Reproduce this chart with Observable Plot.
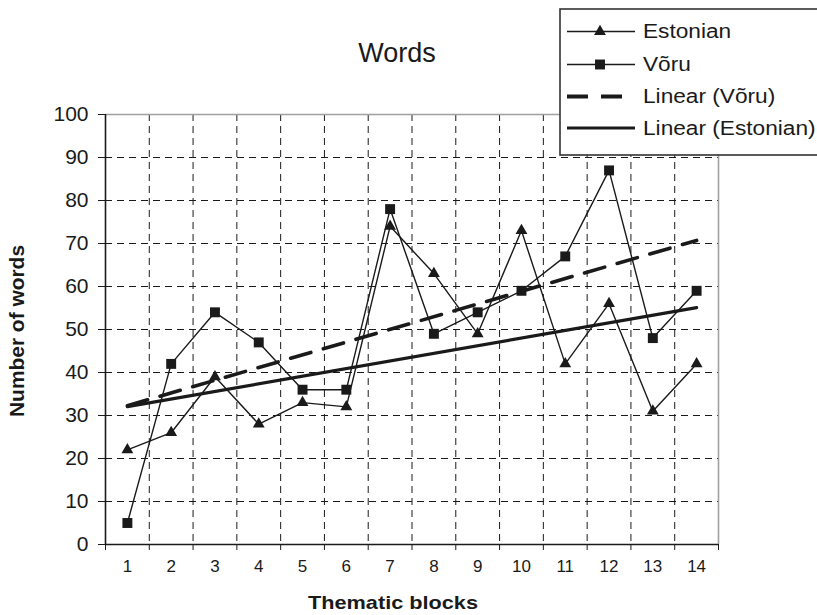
<!DOCTYPE html>
<html><head><meta charset="utf-8">
<script src="https://cdn.jsdelivr.net/npm/d3@7"></script>
<script src="https://cdn.jsdelivr.net/npm/@observablehq/plot@0.6"></script>
<style>
body{margin:0;background:#fff;}
#wrap{position:relative;width:817px;height:615px;font-family:"Liberation Sans",Arial,sans-serif;overflow:hidden;}
#overlay{position:absolute;left:0;top:0;}
</style>
</head><body><div id="wrap"></div>
<script>
const titleText = "Words";
const xTitle = "Thematic blocks";
const yTitle = "Number of words";
const blocks = [1, 2, 3, 4, 5, 6, 7, 8, 9, 10, 11, 12, 13, 14];
const estonian = [22, 26, 39, 28, 33, 32, 74, 63, 49, 73, 42, 56, 31, 42];
const voru = [5, 42, 54, 47, 36, 36, 78, 49, 54, 59, 67, 87, 48, 59];
const yTicks = [0, 10, 20, 30, 40, 50, 60, 70, 80, 90, 100];
const seriesNames = ["Estonian", "Võru", "Linear (Võru)", "Linear (Estonian)"];

const estData = blocks.map((b, i) => ({x: b, y: estonian[i]}));
const voruData = blocks.map((b, i) => ({x: b, y: voru[i]}));
const bounds = [blocks[0] - 0.5, ...blocks.map(b => b + 0.5)];
const innerBounds = bounds.slice(1, -1);
const xMin = bounds[0], xMax = bounds[bounds.length - 1];
const grid = yTicks.slice(1, -1);
const ink = "#1a1a1a";

const chart = Plot.plot({
  width: 817, height: 615,
  marginLeft: 105, marginRight: 99, marginTop: 114, marginBottom: 71,
  style: {fontFamily: '"Liberation Sans", Arial, sans-serif', background: "white"},
  x: {type: "linear", domain: [xMin, xMax], axis: null},
  y: {domain: [0, 100], axis: null},
  marks: [
    Plot.ruleY(grid, {stroke: ink, strokeWidth: 1, strokeDasharray: "7,5"}),
    Plot.ruleX(innerBounds, {stroke: ink, strokeWidth: 1, strokeDasharray: "7,5"}),
    Plot.ruleY([100], {stroke: "#a0a0a0", strokeWidth: 1.6}),
    Plot.ruleX([xMax], {stroke: "#a0a0a0", strokeWidth: 1.6}),
    Plot.axisY({ticks: yTicks, tickSize: 7, tickPadding: 10, fontSize: 21, fill: ink, stroke: ink, label: null}),
    Plot.axisX({ticks: bounds, tickSize: 6, tickFormat: () => "", stroke: ink, label: null}),
    Plot.axisX({ticks: blocks, tickSize: 0, tickPadding: 15, fontSize: 17, fill: ink, label: null}),
    Plot.ruleX([xMin], {stroke: ink, strokeWidth: 1.6}),
    Plot.ruleY([0], {stroke: ink, strokeWidth: 1.6}),
    Plot.line(estData, {x: "x", y: "y", stroke: ink, strokeWidth: 1.4}),
    Plot.line(voruData, {x: "x", y: "y", stroke: ink, strokeWidth: 1.4}),
    Plot.dot(estData, {x: "x", y: "y", symbol: "triangle", r: 4.4, fill: ink, stroke: null}),
    Plot.dot(voruData, {x: "x", y: "y", symbol: "square", r: 5.6, fill: ink, stroke: null}),
    Plot.linearRegressionY(voruData, {x: "x", y: "y", ci: 0, stroke: ink, strokeWidth: 3.6, strokeDasharray: "21,13"}),
    Plot.linearRegressionY(estData, {x: "x", y: "y", ci: 0, stroke: ink, strokeWidth: 3.2})
  ]
});
const wrap = document.getElementById("wrap");
wrap.appendChild(chart);

// overlay: title, axis titles, legend
const ov = d3.select(wrap).append("svg").attr("id", "overlay").attr("width", 817).attr("height", 615)
  .style("font-family", '"Liberation Sans", Arial, sans-serif');
ov.append("text").attr("x", 397).attr("y", 62).attr("text-anchor", "middle").attr("font-size", 27).attr("fill", ink).text(titleText);
ov.append("text").attr("x", 393).attr("y", 609).attr("text-anchor", "middle").attr("font-size", 19).attr("font-weight", "bold").attr("fill", ink)
  .attr("textLength", 170).attr("lengthAdjust", "spacingAndGlyphs").text(xTitle);
ov.append("text").attr("transform", "translate(24,331) rotate(-90)").attr("text-anchor", "middle").attr("font-size", 20).attr("font-weight", "bold").attr("fill", ink)
  .attr("textLength", 172).attr("lengthAdjust", "spacingAndGlyphs").text(yTitle);

const lg = ov.append("g");
lg.append("rect").attr("x", 560).attr("y", 9).attr("width", 300).attr("height", 146).attr("fill", "white").attr("stroke", "#333").attr("stroke-width", 1.6);
const rows = [31.5, 64.5, 96.5, 128];
const styles = [
  {w: 1.3, dash: null, sym: d3.symbolTriangle, size: Math.PI * 4.4 * 4.4},
  {w: 1.3, dash: null, sym: d3.symbolSquare, size: Math.PI * 5.6 * 5.6},
  {w: 3.8, dash: "21,13", sym: null},
  {w: 3.2, dash: null, sym: null}
];
seriesNames.forEach((name, i) => {
  const y = rows[i], s = styles[i];
  const ln = lg.append("line").attr("x1", 567).attr("x2", 635).attr("y1", y).attr("y2", y).attr("stroke", ink).attr("stroke-width", s.w);
  if (s.dash) ln.attr("stroke-dasharray", s.dash);
  if (s.sym) lg.append("path").attr("d", d3.symbol(s.sym, s.size)()).attr("transform", `translate(600,${y})`).attr("fill", ink);
  lg.append("text").attr("x", 643).attr("y", y + 7).attr("font-size", 21).attr("fill", ink)
    .attr("transform", "translate(643,0) scale(1.08,1) translate(-643,0)").text(name);
});
</script>
</body></html>
